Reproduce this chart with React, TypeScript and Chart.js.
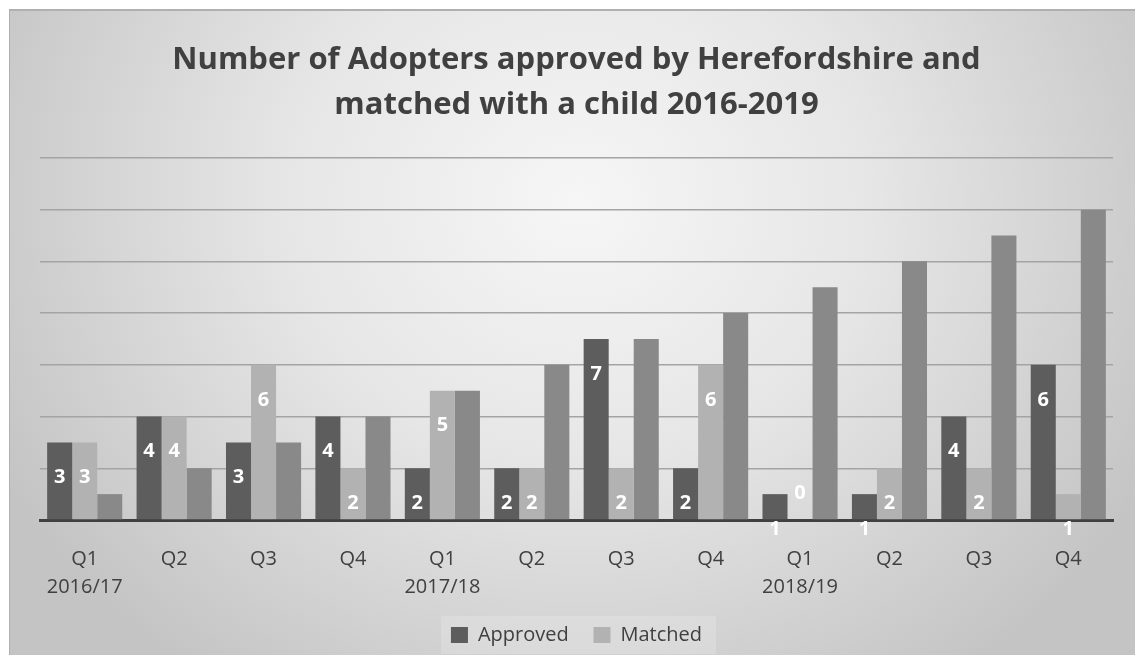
import { useEffect, useRef } from "react";
import { Chart, registerables } from "chart.js";

Chart.register(...registerables);

const quarters = ["Q1", "Q2", "Q3", "Q4", "Q1", "Q2", "Q3", "Q4", "Q1", "Q2", "Q3", "Q4"];
const years = ["2016/17", "", "", "", "2017/18", "", "", "", "2018/19", "", "", ""];
const approved = [3, 4, 3, 4, 2, 2, 7, 2, 1, 1, 4, 6];
const matched = [3, 4, 6, 2, 5, 2, 2, 6, 0, 2, 2, 1];
const series3 = [1, 2, 3, 4, 5, 6, 7, 8, 9, 10, 11, 12];
const yMin = 0;
const yMax = 14;
const yStep = 2;
const titleLines = [
  "Number of Adopters approved by Herefordshire and",
  "matched with a child 2016-2019",
];

const FONT = "'Open Sans', sans-serif";

const bgPlugin = {
  id: "bgPlugin",
  beforeDraw(chart: any) {
    const { ctx, width, height } = chart;
    ctx.save();
    const cx = width * 0.505;
    const cy = height * 0.3;
    const rx = width * 0.58;
    const ry = height * 0.9;
    ctx.translate(cx, cy);
    ctx.scale(rx / ry, 1);
    const g = ctx.createRadialGradient(0, 0, 0, 0, 0, ry);
    g.addColorStop(0, "#f6f6f6");
    g.addColorStop(0.45, "#e6e6e6");
    g.addColorStop(1, "#c4c4c4");
    ctx.fillStyle = g;
    ctx.fillRect(-cx * ry / rx - 10, -cy - 10, (width * ry) / rx + 20, height + 20);
    ctx.restore();
    ctx.save();
    ctx.strokeStyle = "#b0b0b0";
    ctx.lineWidth = 2;
    ctx.beginPath();
    ctx.moveTo(0, height);
    ctx.lineTo(0, 1);
    ctx.lineTo(width, 1);
    ctx.stroke();
    const lg = chart.legend;
    if (lg && lg.legendHitBoxes && lg.legendHitBoxes.length) {
      const hb = lg.legendHitBoxes;
      const l = Math.min(...hb.map((h: any) => h.left)) - 10;
      const r = Math.max(...hb.map((h: any) => h.left + h.width)) + 14;
      const t = Math.min(...hb.map((h: any) => h.top)) - 9;
      const b = Math.max(...hb.map((h: any) => h.top + h.height)) + 9;
      ctx.fillStyle = "rgba(255,255,255,0.18)";
      ctx.fillRect(l, t, r - l, b - t);
    }
    ctx.restore();
  },
};

const labelPlugin = {
  id: "labelPlugin",
  afterDatasetsDraw(chart: any) {
    const { ctx } = chart;
    ctx.save();
    ctx.font = `bold 20px ${FONT}`;
    ctx.fillStyle = "#ffffff";
    ctx.textAlign = "center";
    ctx.textBaseline = "middle";
    [0, 1].forEach((di) => {
      const meta = chart.getDatasetMeta(di);
      const data = chart.data.datasets[di].data as number[];
      meta.data.forEach((bar: any, i: number) => {
        const v = data[i];
        const y = v === 0 ? bar.base - 27 : bar.y + 35;
        ctx.fillText(String(v), bar.x, y);
      });
    });
    ctx.restore();
  },
};

export default function App() {
  const ref = useRef<HTMLCanvasElement | null>(null);
  useEffect(() => {
    if (!ref.current) return;
    const labels = quarters.map((q, i) => (years[i] ? [q, years[i]] : q));
    const chart = new Chart(ref.current, {
      type: "bar",
      data: {
        labels,
        datasets: [
          { label: "Approved", data: approved, backgroundColor: "#5d5d5d" },
          { label: "Matched", data: matched, backgroundColor: "#b2b2b2" },
          { label: "Series3", data: series3, backgroundColor: "#898989" },
        ],
      },
      options: {
        responsive: false,
        animation: false,
        devicePixelRatio: 1,
        datasets: { bar: { categoryPercentage: 0.84, barPercentage: 1.0 } },
        layout: { padding: { left: 31, right: 22, top: 0, bottom: 0 } },
        scales: {
          x: {
            grid: { display: false, drawTicks: false },
            border: { display: true, color: "#404040", width: 3 },
            ticks: {
              color: "#404040",
              font: { family: FONT, size: 20, lineHeight: 1.4 },
              padding: 25,
              maxRotation: 0,
              autoSkip: false,
            },
            afterFit: (scale: any) => {
              scale.height -= 5;
            },
          },
          y: {
            min: yMin,
            max: yMax,
            ticks: { display: false, stepSize: yStep },
            grid: { color: "#a4a4a4", lineWidth: 1.5, drawTicks: false },
            border: { display: false },
          },
        },
        plugins: {
          title: {
            display: true,
            text: titleLines,
            color: "#404040",
            font: { family: FONT, size: 31, weight: "bold", lineHeight: 1.45 },
            padding: { top: 29, bottom: 30 },
          },
          legend: {
            position: "bottom",
            labels: {
              color: "#404040",
              font: { family: FONT, size: 20 },
              boxWidth: 17,
              boxHeight: 16,
              padding: 4,
              generateLabels: (c: any) =>
                Chart.defaults.plugins.legend.labels
                  .generateLabels(c)
                  .filter((it: any) => it.datasetIndex < 2)
                  .map((it: any) =>
                    it.datasetIndex === 0 ? { ...it, text: it.text + "    " } : it
                  ),
            },
          },
          tooltip: { enabled: false },
        },
      },
      plugins: [bgPlugin, labelPlugin],
    });
    return () => chart.destroy();
  }, []);
  return (
    <div style={{ position: "absolute", left: 9, top: 9, width: 1126, height: 646 }}>
      <canvas ref={ref} width={1126} height={646} />
    </div>
  );
}
